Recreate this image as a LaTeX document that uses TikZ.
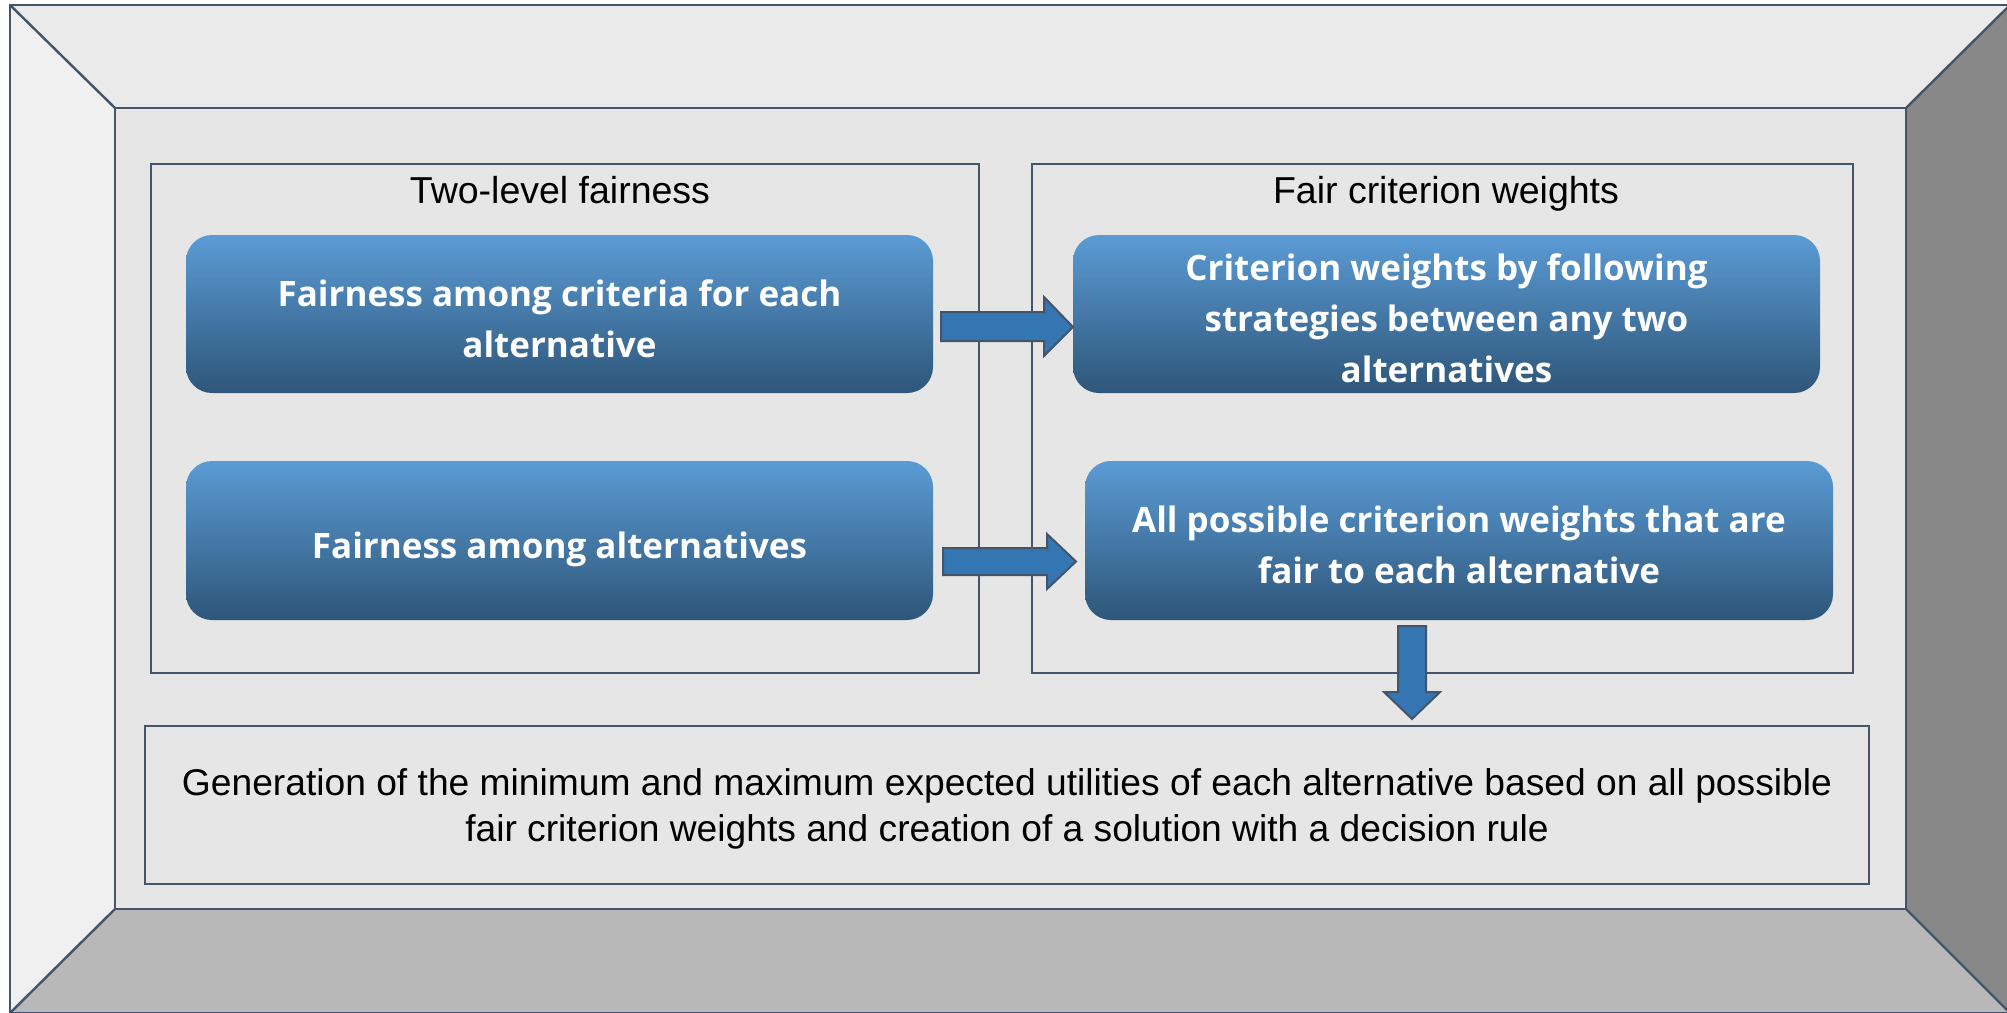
\documentclass[tikz,border=0pt]{standalone}
\usepackage{fontspec}
\setmainfont{Liberation Sans}
\newfontfamily\boxfont{Open Sans}
\usetikzlibrary{positioning}
\definecolor{edge}{HTML}{44546A}
\definecolor{paneltop}{HTML}{EAEAEA}
\definecolor{panelleft}{HTML}{F0F0F0}
\definecolor{panelright}{HTML}{888888}
\definecolor{panelbottom}{HTML}{B8B8B8}
\definecolor{panelmid}{HTML}{E6E6E6}
\definecolor{bluetop}{HTML}{5B9BD5}
\definecolor{bluebot}{HTML}{2E5679}
\definecolor{arrowfill}{HTML}{3476B1}
\begin{document}
\begin{tikzpicture}[x=1pt,y=-1pt,
  frameline/.style={draw=edge,line width=2.4pt,line join=miter},
  groupbox/.style={draw=edge,line width=2pt,fill=panelmid},
  bluebox/.style={rounded corners=26pt,top color=bluetop,bottom color=bluebot,
    shading angle=0},
  bluetext/.style={text=white,align=center,font=\boxfont\bfseries\fontsize{35}{51}\selectfont},
  plaintext/.style={text=black,align=center,font=\fontsize{37.5}{46}\selectfont},
  blockarrow/.style={draw=edge,line width=2pt,fill=arrowfill,line join=miter}]
\useasboundingbox (0,0) rectangle (2007,1012);
\begin{scope}
\clip (0,0) rectangle (2007,1012);
% bevelled frame: four trapezoid panels around a flat centre
\coordinate (o1) at (10,5);   \coordinate (o2) at (2010,5);
\coordinate (o3) at (2010,1013); \coordinate (o4) at (10,1013);
\coordinate (i1) at (115,108); \coordinate (i2) at (1906,108);
\coordinate (i3) at (1906,909); \coordinate (i4) at (115,909);
\fill[paneltop] (o1) -- (o2) -- (i2) -- (i1) -- cycle;
\fill[panelleft] (o1) -- (i1) -- (i4) -- (o4) -- cycle;
\fill[panelright] (o2) -- (o3) -- (i3) -- (i2) -- cycle;
\fill[panelbottom] (o4) -- (i4) -- (i3) -- (o3) -- cycle;
\fill[panelmid] (i1) rectangle (i3);
\draw[frameline] (o1) rectangle (o3);
\draw[frameline] (i1) rectangle (i3);
\draw[frameline] (o1) -- (i1) (o2) -- (i2) (o3) -- (i3) (o4) -- (i4);
\end{scope}

% group boxes
\draw[groupbox] (151,164) rectangle (979,673);
\draw[groupbox] (1032,164) rectangle (1853,673);
\node[plaintext,anchor=base] (t1) at (560,203) {Two-level fairness};
\node[plaintext,anchor=base] (t2) at (1446,203) {Fair criterion weights};

% blue process boxes
\shade[bluebox] (186,235) rectangle (933,393);
\node[bluetext] (b1) at (559.5,319) {Fairness among criteria for each\\alternative};
\shade[bluebox] (186,461) rectangle (933,620);
\node[bluetext] (b2) at (559.5,549) {Fairness among alternatives};
\shade[bluebox] (1073,235) rectangle (1820,393);
\node[bluetext] (b3) at (1446.5,318) {Criterion weights by following\\strategies between any two\\alternatives};
\shade[bluebox] (1085,461) rectangle (1833,620);
\node[bluetext] (b4) at (1459,545) {All possible criterion weights that are\\fair to each alternative};

% block arrows
\draw[blockarrow] (941,312) -- (1044,312) -- (1044,297) -- (1073,327) -- (1044,356)
  -- (1044,341) -- (941,341) -- cycle;
\draw[blockarrow] (943,548) -- (1047,548) -- (1047,534) -- (1076,561.5) -- (1047,589)
  -- (1047,575) -- (943,575) -- cycle;
\draw[blockarrow] (1398,626) -- (1426,626) -- (1426,692) -- (1440,692) -- (1412,719)
  -- (1384,692) -- (1398,692) -- cycle;

% result box
\draw[groupbox] (145,726) rectangle (1869,884);
\node[plaintext,font=\fontsize{37.2}{46}\selectfont] (r) at (1007,809) {Generation of the minimum and maximum expected utilities of each alternative based on all possible\\fair criterion weights and creation of a solution with a decision rule};
\end{tikzpicture}
\end{document}
